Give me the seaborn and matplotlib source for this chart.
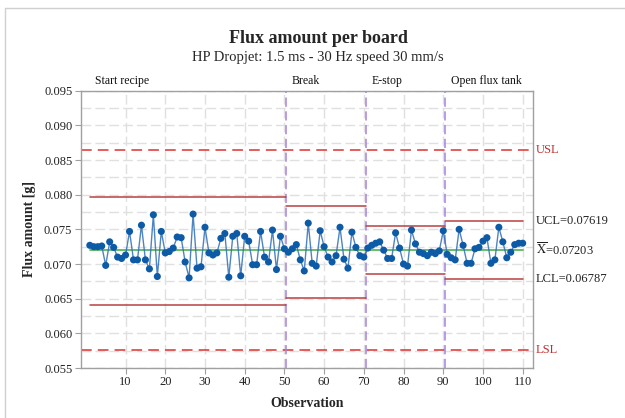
import numpy as np
import pandas as pd
import matplotlib
matplotlib.use("Agg")
import matplotlib.pyplot as plt
from matplotlib.lines import Line2D
import seaborn as sns

# Flux amount per board (g), observations 1..110
flux = [
    0.0727, 0.0725, 0.0725, 0.0726, 0.0698, 0.0732, 0.0724, 0.0710, 0.0708, 0.0713,
    0.0747, 0.0706, 0.0706, 0.0756, 0.0706, 0.0693, 0.0771, 0.0682, 0.0747, 0.0716,
    0.0718, 0.0723, 0.0739, 0.0738, 0.0703, 0.0680, 0.0772, 0.0694, 0.0696, 0.0753,
    0.0716, 0.0713, 0.0716, 0.0737, 0.0744, 0.0681, 0.0740, 0.0744, 0.0683, 0.0740,
    0.0733, 0.0699, 0.0699, 0.0747, 0.0710, 0.0703, 0.0749, 0.0692, 0.0740, 0.0722,
    0.0717, 0.0722, 0.0728, 0.0706, 0.0690, 0.0759, 0.0701, 0.0697, 0.0748, 0.0725,
    0.0710, 0.0703, 0.0712, 0.0753, 0.0707, 0.0694, 0.0746, 0.0724, 0.0712, 0.0710,
    0.0723, 0.0727, 0.0730, 0.0732, 0.0720, 0.0708, 0.0708, 0.0745, 0.0723, 0.0700,
    0.0697, 0.0749, 0.0729, 0.0717, 0.0715, 0.0712, 0.0717, 0.0715, 0.0719, 0.0748,
    0.0714, 0.0709, 0.0706, 0.0750, 0.0727, 0.0701, 0.0701, 0.0722, 0.0724, 0.0733,
    0.0738, 0.0701, 0.0706, 0.0753, 0.0732, 0.0709, 0.0717, 0.0728, 0.0730, 0.0730,
]
observation = list(range(1, len(flux) + 1))

# Process phases: label, first and last observation
phase_labels = ["Start recipe", "Break", "E-stop", "Open flux tank"]
phase_start = [1, 51, 71, 91]
phase_end = [50, 70, 90, 110]
phase_ucl = [0.0797, 0.0783, 0.0755, 0.07619]
phase_lcl = [0.0641, 0.0651, 0.0686, 0.06787]

center = 0.07203
usl = 0.0864
lsl = 0.0576

df = pd.DataFrame({"Observation": observation, "Flux": flux})

sns.set_theme(style="white")
plt.rcParams["font.family"] = ["Liberation Serif", "DejaVu Serif"]
plt.rcParams["mathtext.fontset"] = "stix"

fig = plt.figure(figsize=(6.25, 4.18), dpi=100)
ax = fig.add_axes([0.1291, 0.1196, 0.8528 - 0.1291, 0.783 - 0.1196])

ax.set_xlim(-1.3, 112.6)
ax.set_ylim(0.055, 0.095)

# grid
ax.set_xticks(np.arange(10, 111, 10))
ax.set_yticks(np.arange(0.055, 0.0951, 0.005))
ax.set_yticks(np.arange(0.055, 0.0951, 0.0025), minor=True)
ax.grid(True, which="both", axis="y", color="#e0e0e0", linestyle=(0, (7, 3)), linewidth=1.0)
ax.grid(True, which="major", axis="x", color="#e0e0e0", linestyle=(0, (7, 3)), linewidth=1.0)
ax.set_axisbelow(True)

# specification limits
ax.axhline(usl, color="#e03030", linestyle=(0, (7, 4)), linewidth=1.1, zorder=2)
ax.axhline(lsl, color="#e03030", linestyle=(0, (7, 4)), linewidth=1.1, zorder=2)

# phase boundaries
for s in phase_start[1:]:
    ax.axvline(s - 0.5, color="#a383e0", linestyle=(0, (6, 3)), linewidth=1.1, zorder=2)

# control limits per phase
for i, (s, e) in enumerate(zip(phase_start, phase_end)):
    x0 = s if i == 0 else s - 0.5
    x1 = e + 0.5 if i < len(phase_start) - 1 else e
    ax.plot([x0, x1], [phase_ucl[i], phase_ucl[i]], color="#b84040", linewidth=1.1, zorder=3)
    ax.plot([x0, x1], [phase_lcl[i], phase_lcl[i]], color="#b84040", linewidth=1.1, zorder=3)

# center line
ax.plot([observation[0], observation[-1]], [center, center], color="#5cb85c", linewidth=1.3, zorder=3)

# observations
sns.lineplot(data=df, x="Observation", y="Flux", ax=ax, color="#2f6fb8",
             linewidth=1.0, zorder=4, alpha=0.85)
sns.scatterplot(data=df, x="Observation", y="Flux", ax=ax, color="#0d5aa7",
                s=26, edgecolor="none", zorder=5)

# phase labels above the plot
for lab, s in zip(phase_labels, phase_start):
    xb = s - 0.5
    ax.annotate(lab, xy=(xb, 0.095), xytext=(4 if s > 1 else 5, 3), textcoords="offset points",
                ha="left", va="bottom", fontsize=8.5, color="#111111")

# right-hand limit labels
trans = ax.get_yaxis_transform()
ax.text(1.006, usl, "USL", transform=trans, ha="left", va="center", color="#c03030", fontsize=9)
ax.text(1.006, lsl, "LSL", transform=trans, ha="left", va="center", color="#c03030", fontsize=9)
ax.text(1.006, phase_ucl[-1], "UCL=0.07619", transform=trans, ha="left", va="center", color="#222222", fontsize=9)
ax.text(1.006, center, r"$\overline{\mathrm{X}}$=0.07203", transform=trans, ha="left", va="center", color="#222222", fontsize=9)
ax.text(1.006, phase_lcl[-1], "LCL=0.06787", transform=trans, ha="left", va="center", color="#222222", fontsize=9)

# axes styling
for sp in ax.spines.values():
    sp.set_color("#a0a0a0")
    sp.set_linewidth(1.0)
ax.tick_params(axis="both", which="major", direction="out", length=4, width=0.8,
               color="#a0a0a0", labelsize=9, labelcolor="#222222", pad=2)
ax.tick_params(axis="y", which="minor", length=0)
ax.tick_params(axis="x", which="both", bottom=True)
ax.tick_params(axis="y", which="major", left=True)
ax.set_yticklabels([f"{v:.3f}" for v in np.arange(0.055, 0.0951, 0.005)])

ax.set_xlabel("Observation", fontsize=10, fontweight="bold", labelpad=6)
ax.set_ylabel("Flux amount [g]", fontsize=10, fontweight="bold", labelpad=6)

fig.text(0.509, 0.908, "Flux amount per board", ha="center", va="center",
         fontsize=13, fontweight="bold")
fig.text(0.509, 0.862, "HP Dropjet: 1.5 ms - 30 Hz speed 30 mm/s", ha="center", va="center",
         fontsize=10.5)

# outer frame (top and left edges)
fig.add_artist(Line2D([0.0085, 1.0], [0.981, 0.981], transform=fig.transFigure, color="#d0d0d0", linewidth=1.0))
fig.add_artist(Line2D([0.0085, 0.0085], [0.0, 0.981], transform=fig.transFigure, color="#d0d0d0", linewidth=1.0))

fig.savefig("out.png", dpi=100)
